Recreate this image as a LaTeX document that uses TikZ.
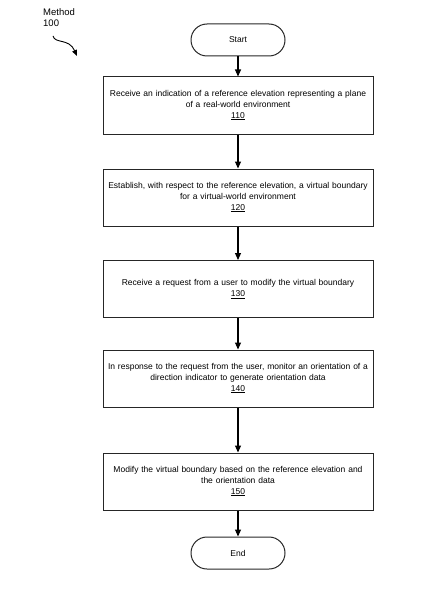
\documentclass[tikz,border=0pt]{standalone}
\usepackage{fontspec}
\setmainfont{Liberation Sans}
\usetikzlibrary{arrows.meta}
\begin{document}
\begin{tikzpicture}[x=1pt,y=-1pt,
  stepbox/.style={draw=black!85,line width=1pt,minimum width=270pt,minimum height=57pt,
    text width=264pt,align=center,inner sep=0pt,font=\fontsize{8.5}{10.6}\selectfont},
  term/.style={draw=black!85,line width=1pt,rounded corners=16pt,minimum width=94pt,
    minimum height=32pt,inner sep=0pt,font=\fontsize{8.5}{10}\selectfont},
  flow/.style={line width=1.1pt,-{Triangle[length=7pt,width=6pt]}}]
\useasboundingbox (0,0) rectangle (442,591);
\node[font=\fontsize{9.5}{11}\selectfont,align=left,anchor=north west,inner sep=0pt] (lbl) at (43,8) {Method\\100};
\coordinate (ls) at (53,36);
\coordinate (le) at (77,56);
\draw[line width=0.9pt,-{Triangle[length=6pt,width=5pt]}] (ls) .. controls (55,44) and (69,38) .. (le);
\node[term] (start) at (238,40) {Start};
\node[stepbox] (b1) at (238,105.5) {Receive an indication of a reference elevation representing a plane\\of a real-world environment\\\underline{110}};
\node[stepbox] (b2) at (238,197.5) {Establish, with respect to the reference elevation, a virtual boundary\\for a virtual-world environment\\\underline{120}};
\node[stepbox] (b3) at (238,289) {Receive a request from a user to modify the virtual boundary\\\underline{130}};
\node[stepbox] (b4) at (238,378.5) {In response to the request from the user, monitor an orientation of a\\direction indicator to generate orientation data\\\underline{140}};
\node[stepbox] (b5) at (238,481.5) {Modify the virtual boundary based on the reference elevation and\\the orientation data\\\underline{150}};
\node[term] (end) at (238,553) {End};
\draw[flow] (start) -- (b1);
\draw[flow] (b1) -- (b2);
\draw[flow] (b2) -- (b3);
\draw[flow] (b3) -- (b4);
\draw[flow] (b4) -- (b5);
\draw[flow] (b5) -- (end);
\end{tikzpicture}
\end{document}
